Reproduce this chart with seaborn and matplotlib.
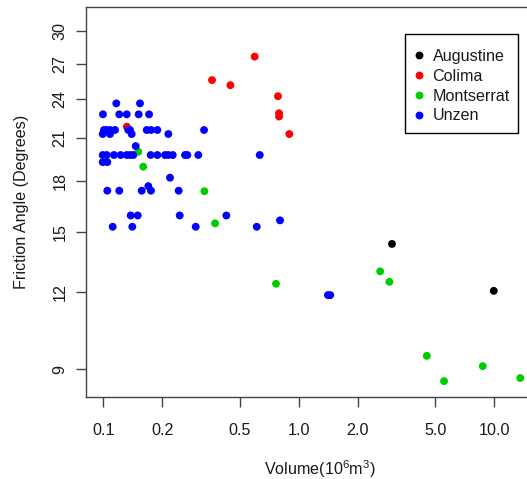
import numpy as np
import pandas as pd
import matplotlib
matplotlib.use("Agg")
import matplotlib.pyplot as plt
import seaborn as sns
from matplotlib.patches import Rectangle
from matplotlib.ticker import FixedLocator, FixedFormatter, NullLocator

# Friction angle versus collapse volume for four dome-collapse volcanoes
volcanoes = ["Augustine", "Colima", "Montserrat", "Unzen"]
volcano_colors = ["#000000", "#FF0000", "#00CD00", "#0000FF"]

augustine_volume = [3.00, 9.95]
augustine_angle = [14.34, 12.06]

colima_volume = [0.132, 0.360, 0.447, 0.595, 0.783, 0.793, 0.793, 0.895]
colima_angle = [21.82, 25.57, 25.14, 27.63, 24.22, 22.60, 22.85, 21.27]

montserrat_volume = [0.151, 0.160, 0.329, 0.373, 0.765, 2.61, 2.91, 4.52, 5.54, 8.74, 13.6]
montserrat_angle = [19.99, 18.96, 17.37, 15.46, 12.38, 12.96, 12.47, 9.46, 8.60, 9.10, 8.70]

unzen_volume = [
    0.1165, 0.154,
    0.0996, 0.1207, 0.1318, 0.1517, 0.1714,
    0.1008, 0.1041, 0.1082, 0.1148, 0.1342, 0.137, 0.1668, 0.1754, 0.189, 0.3277,
    0.0993, 0.1082, 0.1397, 0.2151,
    0.1465,
    0.0993, 0.1041, 0.1134, 0.1227, 0.1318, 0.137, 0.1424, 0.1748, 0.189, 0.207,
    0.2151, 0.2266, 0.2619, 0.2691, 0.3063, 0.6316,
    0.0993, 0.1048,
    0.2194,
    0.1048, 0.1207, 0.1572, 0.1754, 0.243, 0.170,
    0.1381, 0.150, 0.246, 0.4262,
    0.1117, 0.1407, 0.2971, 0.6096,
    0.802,
    1.41, 1.45,
]
unzen_angle = [
    23.64, 23.64,
    22.77, 22.77, 22.77, 22.77, 22.77,
    21.57, 21.57, 21.57, 21.57, 21.57, 21.57, 21.57, 21.57, 21.57, 21.57,
    21.27, 21.27, 21.27, 21.27,
    20.39,
    19.76, 19.76, 19.76, 19.76, 19.76, 19.76, 19.76, 19.76, 19.76, 19.76,
    19.76, 19.76, 19.76, 19.76, 19.76, 19.76,
    19.27, 19.27,
    18.23,
    17.40, 17.40, 17.40, 17.40, 17.40, 17.69,
    15.91, 15.91, 15.91, 15.91,
    15.27, 15.27, 15.27, 15.27,
    15.63,
    11.87, 11.87,
]

x_ticks = [0.1, 0.2, 0.5, 1.0, 2.0, 5.0, 10.0]
x_tick_labels = ["0.1", "0.2", "0.5", "1.0", "2.0", "5.0", "10.0"]
y_ticks = [9, 12, 15, 18, 21, 24, 27, 30]
y_tick_labels = ["9", "12", "15", "18", "21", "24", "27", "30"]

frames = []
for name, vol, ang in [
    ("Augustine", augustine_volume, augustine_angle),
    ("Colima", colima_volume, colima_angle),
    ("Montserrat", montserrat_volume, montserrat_angle),
    ("Unzen", unzen_volume, unzen_angle),
]:
    frames.append(pd.DataFrame({"volume": vol, "angle": ang, "volcano": name}))
df = pd.concat(frames, ignore_index=True)

sns.set_style("white")
plt.rcParams["font.family"] = ["Liberation Sans", "DejaVu Sans"]
plt.rcParams["mathtext.fontset"] = "custom"
plt.rcParams["mathtext.rm"] = "Liberation Sans"
plt.rcParams["mathtext.it"] = "Liberation Sans:italic"
plt.rcParams["mathtext.bf"] = "Liberation Sans:bold"

text_color = "#1a1a1a"
axis_color = "#444444"
fs = 11.6
W, H = 527, 479

fig = plt.figure(figsize=(W / 100, H / 100), dpi=100)
ax = fig.add_axes([86 / W, 82 / H, 467 / W, 390 / H])

sns.scatterplot(
    data=df, x="volume", y="angle", hue="volcano", hue_order=volcanoes,
    palette=dict(zip(volcanoes, volcano_colors)), s=32, linewidth=0,
    edgecolor="none", ax=ax, legend=True,
)


# angle axis is logarithmic in tan(angle)
def tan_log(a):
    a = np.clip(np.asarray(a, dtype=float), 0.01, 89.99)
    return np.log10(np.tan(np.radians(a)))


def tan_log_inv(v):
    return np.degrees(np.arctan(np.power(10.0, np.asarray(v, dtype=float))))


ax.set_xscale("log")
ax.set_yscale("function", functions=(tan_log, tan_log_inv))
ax.set_xlim(0.08155, 20.0)
ax.set_ylim(8.10, 32.33)

ax.xaxis.set_major_locator(FixedLocator(x_ticks))
ax.xaxis.set_major_formatter(FixedFormatter(x_tick_labels))
ax.xaxis.set_minor_locator(NullLocator())
ax.yaxis.set_major_locator(FixedLocator(y_ticks))
ax.yaxis.set_major_formatter(FixedFormatter(y_tick_labels))
ax.yaxis.set_minor_locator(NullLocator())

ax.tick_params(axis="both", which="major", bottom=True, left=True, top=False, right=False,
               direction="out", length=7.5, width=1.0, color=axis_color,
               labelsize=fs, labelcolor=text_color)
ax.tick_params(axis="x", pad=11.5)
ax.tick_params(axis="y", pad=6)
for lab in ax.get_yticklabels():
    lab.set_rotation(90)
    lab.set_va("center")
    lab.set_ha("right")

for sp in ax.spines.values():
    sp.set_visible(True)
    sp.set_color(axis_color)
    sp.set_linewidth(1.0)

ax.set_xlabel(r"Volume(10$^{6}$m$^{3}$)", fontsize=fs, color=text_color, labelpad=14)
ax.set_ylabel("Friction Angle (Degrees)", fontsize=fs, color=text_color, labelpad=17)

# legend entries without their own frame; the box is drawn separately
handles, labels = ax.get_legend_handles_labels()
leg = ax.legend(
    handles, labels, loc="upper left",
    bbox_to_anchor=(414 / W, 1 - 49 / H), bbox_transform=fig.transFigure,
    frameon=False, fontsize=fs,
    handlelength=0.6, handletextpad=0.55, labelspacing=0.3,
    borderpad=0.0, borderaxespad=0.0, markerscale=1.0,
)
for t in leg.get_texts():
    t.set_color(text_color)

legend_box = Rectangle((405 / W, 1 - 133 / H), 113 / W, 99 / H,
                       transform=fig.transFigure, fill=False,
                       edgecolor="#000000", linewidth=1.0, zorder=5)
fig.patches.append(legend_box)

fig.savefig("out.png", dpi=100)
